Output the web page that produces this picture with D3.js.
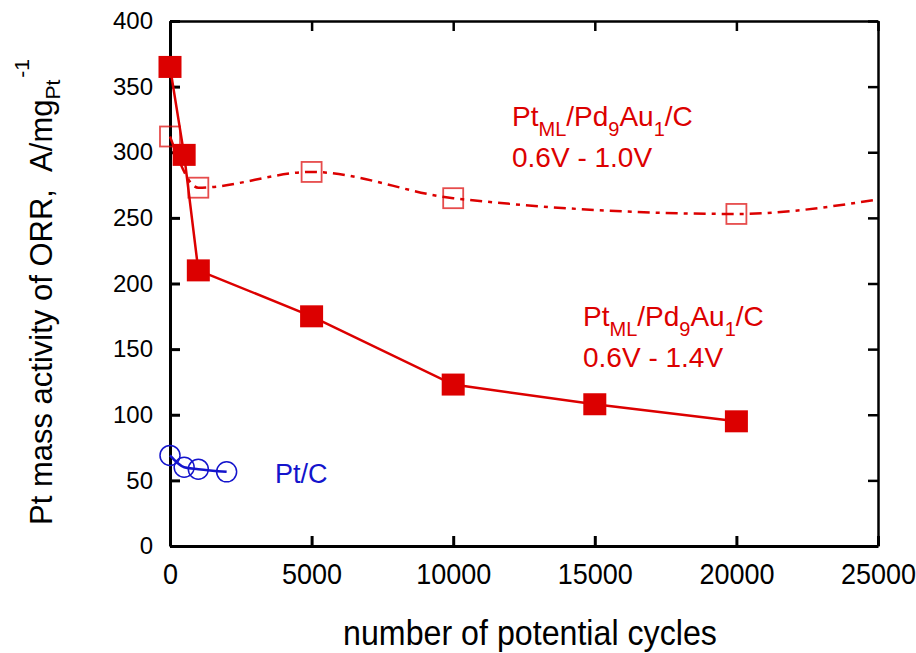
<!DOCTYPE html>
<html>
<head>
<meta charset="utf-8">
<script src="https://cdn.jsdelivr.net/npm/d3@7"></script>
<style>
  body { margin: 0; background: #fff; }
  svg { font-family: "Liberation Sans", Arial, sans-serif; }
</style>
</head>
<body>
<div id="chart"></div>
<script>
// cycling 0.6V - 1.4V, Pt_ML/Pd9Au1/C (filled squares)
const cyclesHigh = [0, 500, 1000, 5000, 10000, 15000, 20000]
const activityHigh = [365, 298, 210, 175, 123, 108, 95]

// cycling 0.6V - 1.0V, Pt_ML/Pd9Au1/C (open squares)
const cyclesLow = [0, 1000, 5000, 10000, 20000]
const activityLow = [312, 273, 285, 265, 253]
// where the dash-dot trend line leaves the plot on the right
const trendEnd = [25000, 264]

// Pt/C (open circles)
const cyclesPtC = [0, 500, 1000, 2000]
const activityPtC = [69, 60, 58.5, 56.5]

const xTicks = [0, 5000, 10000, 15000, 20000, 25000]
const yTicks = [0, 50, 100, 150, 200, 250, 300, 350, 400]

const w = 916
const h = 653
const padL = 170, padR = 878, padT = 21, padB = 546
const red = "#dc0000"
const blue = "#1414cc"

const svg = d3.select("#chart").append("svg")
    .attr("width", w)
    .attr("height", h)

const x = d3.scaleLinear().domain([0, 25000]).range([padL, padR])
const y = d3.scaleLinear().domain([0, 400]).range([padB, padT])

// frame: top and right, ticks only
svg.append("g")
    .attr("transform", `translate(0,${padT})`)
    .call(d3.axisTop(x).tickValues(xTicks).tickSizeInner(-10).tickSizeOuter(0).tickFormat(""))
    .call(g => g.selectAll("line, path").attr("stroke", "#000").attr("stroke-width", 2.5))

svg.append("g")
    .attr("transform", `translate(${padR},0)`)
    .call(d3.axisRight(y).tickValues(yTicks).tickSizeInner(-10).tickSizeOuter(0).tickFormat(""))
    .call(g => g.selectAll("line, path").attr("stroke", "#000").attr("stroke-width", 2.5))

// bottom axis
svg.append("g")
    .attr("transform", `translate(0,${padB})`)
    .call(d3.axisBottom(x).tickValues(xTicks).tickSizeInner(-10).tickSizeOuter(0).tickPadding(17).tickFormat(d3.format("d")))
    .call(g => g.selectAll("line, path").attr("stroke", "#000").attr("stroke-width", 3))
    .call(g => g.selectAll("text")
        .attr("font-size", 30)
        .attr("font-family", "Liberation Sans, Arial, sans-serif")
        .attr("fill", "#000")
        .attr("transform", "scale(0.9,1)"))

// left axis
svg.append("g")
    .attr("transform", `translate(${padL},0)`)
    .call(d3.axisLeft(y).tickValues(yTicks).tickSizeInner(-10).tickSizeOuter(0).tickPadding(17))
    .call(g => g.selectAll("line, path").attr("stroke", "#000").attr("stroke-width", 3))
    .call(g => g.selectAll("text")
        .attr("font-size", 24)
        .attr("font-family", "Liberation Sans, Arial, sans-serif")
        .attr("fill", "#000"))

// axis titles
svg.append("text")
    .attr("x", 530 / 0.92)
    .attr("y", 645)
    .attr("transform", "scale(0.92,1)")
    .attr("text-anchor", "middle")
    .attr("font-size", 35)
    .text("number of potential cycles")

const yTitle = svg.append("text")
    .attr("transform", "translate(52,292) rotate(-90)")
    .attr("text-anchor", "middle")
    .attr("font-size", 31)
yTitle.append("tspan").text("Pt mass activity of ORR,\u00a0\u00a0A/mg")
yTitle.append("tspan").attr("font-size", 21).attr("dy", 8).text("Pt")
yTitle.append("tspan").attr("font-size", 21).attr("dy", -31).attr("dx", 2).text("-1")

// lines
const lowPts = cyclesLow.map((c, i) => [c, activityLow[i]]).concat([trendEnd])
svg.append("path")
    .datum(lowPts)
    .attr("fill", "none")
    .attr("stroke", red)
    .attr("stroke-width", 2.5)
    .attr("stroke-dasharray", "12,6,4,6")
    .attr("d", d3.line().x(d => x(d[0])).y(d => y(d[1])).curve(d3.curveMonotoneX))

svg.append("path")
    .datum(cyclesHigh.map((c, i) => [c, activityHigh[i]]))
    .attr("fill", "none")
    .attr("stroke", red)
    .attr("stroke-width", 2.5)
    .attr("d", d3.line().x(d => x(d[0])).y(d => y(d[1])))

svg.append("path")
    .datum(cyclesPtC.map((c, i) => [c, activityPtC[i]]))
    .attr("fill", "none")
    .attr("stroke", blue)
    .attr("stroke-width", 2.5)
    .attr("d", d3.line().x(d => x(d[0])).y(d => y(d[1])).curve(d3.curveMonotoneX))

// markers
svg.selectAll("rect.open")
    .data(cyclesLow)
    .enter()
    .append("rect")
    .attr("class", "open")
    .attr("x", d => x(d) - 10)
    .attr("y", (d, i) => y(activityLow[i]) - 10)
    .attr("width", 20)
    .attr("height", 20)
    .attr("fill", "none")
    .attr("stroke", red)
    .attr("stroke-opacity", 0.7)
    .attr("stroke-width", 1.8)

svg.selectAll("rect.filled")
    .data(cyclesHigh)
    .enter()
    .append("rect")
    .attr("class", "filled")
    .attr("x", d => x(d) - 11.5)
    .attr("y", (d, i) => y(activityHigh[i]) - 11)
    .attr("width", 23)
    .attr("height", 22)
    .attr("fill", red)

svg.selectAll("circle")
    .data(cyclesPtC)
    .enter()
    .append("circle")
    .attr("cx", d => x(d))
    .attr("cy", (d, i) => y(activityPtC[i]))
    .attr("r", 10)
    .attr("fill", "none")
    .attr("stroke", blue)
    .attr("stroke-width", 1.5)

// labels
function sampleLabel(x0, y0, range) {
    const t = svg.append("text")
        .attr("x", x0)
        .attr("y", y0)
        .attr("fill", red)
        .attr("font-size", 28)
    t.append("tspan").text("Pt")
    t.append("tspan").attr("font-size", 20).attr("dy", 10).text("ML")
    t.append("tspan").attr("dy", -10).text("/Pd")
    t.append("tspan").attr("font-size", 20).attr("dy", 10).text("9")
    t.append("tspan").attr("dy", -10).text("Au")
    t.append("tspan").attr("font-size", 20).attr("dy", 10).text("1")
    t.append("tspan").attr("dy", -10).text("/C")
    svg.append("text")
        .attr("x", x0)
        .attr("y", y0 + 41)
        .attr("fill", red)
        .attr("font-size", 28)
        .text(range)
}
sampleLabel(512, 126, "0.6V - 1.0V")
sampleLabel(583, 326, "0.6V - 1.4V")

svg.append("text")
    .attr("x", 275)
    .attr("y", 483)
    .attr("fill", blue)
    .attr("font-size", 27)
    .text("Pt/C")
</script>
</body>
</html>
